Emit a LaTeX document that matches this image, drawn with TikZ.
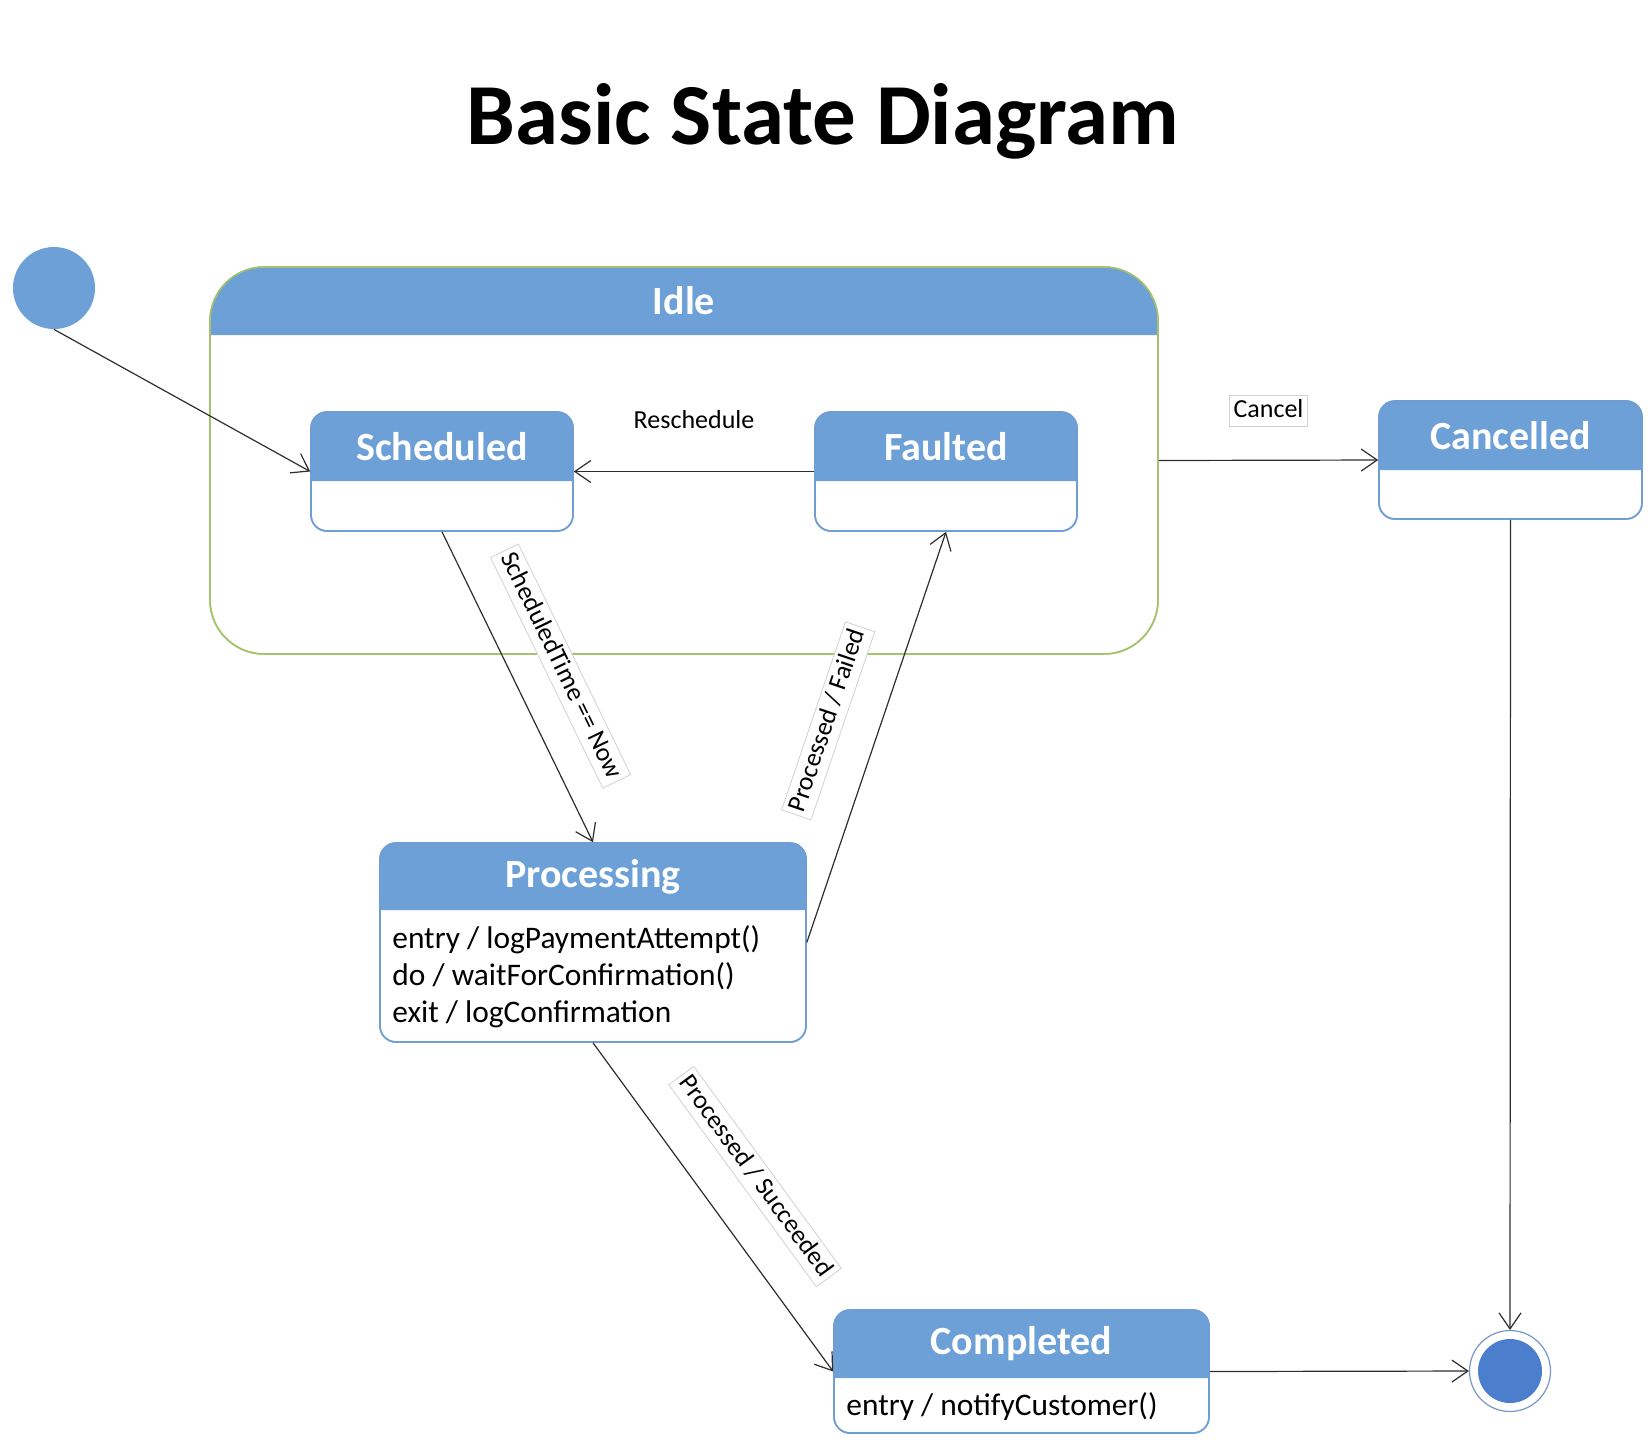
\documentclass[tikz,border=0pt]{standalone}
\usepackage{fontspec}
\setmainfont{Carlito}
\usetikzlibrary{arrows.meta,fit}
\definecolor{hdr}{RGB}{108,160,214}
\definecolor{bord}{RGB}{112,158,212}
\definecolor{idlegreen}{RGB}{165,195,110}
\definecolor{initfill}{RGB}{108,160,214}
\definecolor{finalfill}{RGB}{76,126,206}
\definecolor{finring}{RGB}{120,150,200}
\definecolor{lineclr}{RGB}{45,45,45}
% name, x1, y1, x2, y2, header bottom y, title
\newcommand\mkstate[7]{%
  \node[stbody, fit={(#2,#3) (#4,#5)}] (#1) {};
  \fill[hdr] (#2,#6) {[rounded corners=8pt] -- (#2,#3) -- (#4,#3)} -- (#4,#6) -- cycle;
  \draw[draw=bord, line width=0.8pt, rounded corners=8pt] (#2,#3) rectangle (#4,#5);
  \node[sttitle] (#1-t) at ({(#2+#4)/2},{(#3+#6)/2}) {#7};
}
\begin{document}
\begin{tikzpicture}[x=0.5pt,y=-0.5pt,
  stbody/.style={draw=bord, line width=0.8pt, fill=white, rounded corners=8pt, inner sep=0pt},
  sttitle/.style={text=white, font=\fontsize{20}{24}\selectfont\bfseries, inner sep=0pt},
  bodytxt/.style={font=\fontsize{15.7}{18}\selectfont, inner sep=0pt, anchor=base west},
  conn/.style={draw=lineclr, line width=0.6pt, -{Straight Barb[length=8pt,width=11pt]}},
  lbl/.style={font=\fontsize{13}{15}\selectfont, text height=9pt, text depth=2.5pt, inner sep=2pt, fill=white, draw=black!18, line width=0.4pt},
  lblplain/.style={lbl, draw=none}
]
\useasboundingbox (0,0) rectangle (1648,1448);

% title
\node[font=\fontsize{43.5}{50}\selectfont\bfseries, anchor=base, inner sep=0pt] (title) at (823,144) {Basic State Diagram};

% Idle composite state
\node[draw=idlegreen, line width=0.8pt, rounded corners=27pt, fit={(210,267) (1158,654)}, inner sep=0pt] (idle) {};
\fill[hdr] (210,335) {[rounded corners=27pt] -- (210,267) -- (1158,267)} -- (1158,335) -- cycle;
\draw[idlegreen, line width=0.8pt, rounded corners=27pt] (210,267) rectangle (1158,654);
\node[sttitle] (idle-t) at (684,301) {Idle};

% states
\mkstate{sched}{311}{412}{573}{531}{481}{Scheduled}
\mkstate{fault}{815}{412}{1077}{531}{481}{Faulted}
\mkstate{canc}{1379}{401}{1642}{519}{470}{Cancelled}
\mkstate{proc}{380}{843}{806}{1042}{910}{Processing}
\mkstate{comp}{834}{1310}{1209}{1433}{1378}{Completed}

\node[bodytxt] (proc-b1) at (392,948) {entry / logPaymentAttempt()};
\node[bodytxt] (proc-b2) at (392,985) {do / waitForConfirmation()};
\node[bodytxt] (proc-b3) at (392,1022) {exit / logConfirmation};
\node[bodytxt] (comp-b1) at (846,1415) {entry / notifyCustomer()};

% pseudo states
\node[circle, fill=initfill, minimum size=41pt, inner sep=0pt] (init) at (54,288) {};
\node[circle, draw=finring, line width=0.6pt, fill=white, minimum size=40.5pt, inner sep=0pt] (fin) at (1510,1371) {};
\node[circle, fill=finalfill, minimum size=32pt, inner sep=0pt] (fin-in) at (fin.center) {};

% transitions
\draw[conn] (init.south) -- (sched.west);
\draw[conn] (fault.west) -- node[lblplain, above=17pt] (l-resch) {Reschedule} (sched.east);
\draw[conn] (idle.east) -- node[lbl, above=16.5pt] (l-cancel) {Cancel} (canc.west);
\draw[conn] (sched.south) -- node[lbl, sloped, above=16pt] (l-sched) {ScheduledTime == Now} (proc.north);
\draw[conn] (proc.east) -- node[lbl, sloped, above=17.5pt] (l-fail) {Processed / Failed} (fault.south);
\draw[conn] (proc.south) -- node[lbl, sloped, above=18pt] (l-succ) {Processed / Succeeded} (comp.west);
\draw[conn] (canc.south) -- (fin.north);
\draw[conn] (comp.east) -- (fin.west);
\end{tikzpicture}
\end{document}
